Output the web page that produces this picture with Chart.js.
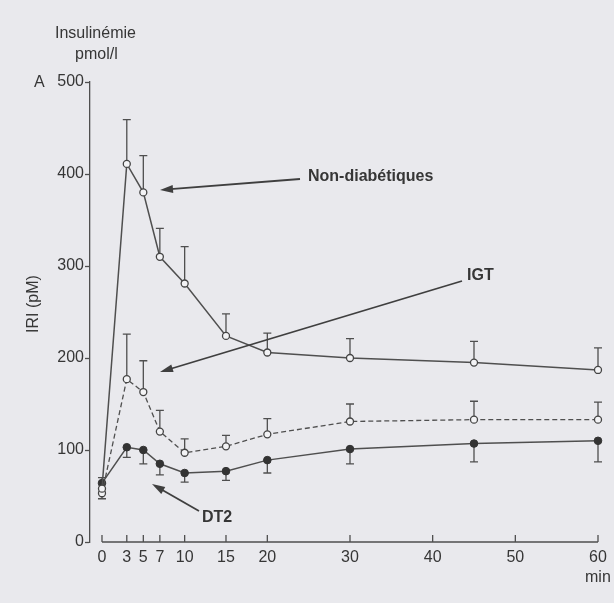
<!DOCTYPE html>
<html>
<head>
<meta charset="utf-8">
<script src="https://cdn.jsdelivr.net/npm/chart.js@4.4.1/dist/chart.umd.min.js"></script>
<style>
  html, body { margin: 0; padding: 0; background: #e9e9ed; }
</style>
</head>
<body>
<canvas id="graphiqueInsuline" width="614" height="603"></canvas>
<script>
// temps apres la charge (min)
var minutes = [0, 3, 5, 7, 10, 15, 20, 30, 45, 60];
var ticksX = [0, 3, 5, 7, 10, 15, 20, 30, 40, 50, 60];

// insulinemie (pM)
var nonDiabetiques = [58, 411, 380, 310, 281, 224, 206, 200, 195, 187];
var nonDiabetiquesErr = [58, 459, 420, 341, 321, 248, 227, 221, 218, 211];
var igt = [53, 177, 163, 120, 97, 104, 117, 131, 133, 133];
var igtErr = [47, 226, 197, 143, 112, 116, 134, 150, 153, 152];
var dt2 = [64, 103, 100, 85, 75, 77, 89, 101, 107, 110];
var dt2Err = [70, 92, 85, 73, 65, 67, 75, 85, 87, 87];

var police = "'Liberation Sans', Arial, sans-serif";
var gris = "#4f4f4f";
var texte = "#363636";

function points(valeurs) {
  return minutes.map((t, i) => ({ x: t, y: valeurs[i] }));
}

function fleche(ctx, x1, y1, x2, y2) {
  var ang = Math.atan2(y2 - y1, x2 - x1);
  var lg = 13, la = 4;
  ctx.beginPath();
  ctx.moveTo(x1, y1);
  ctx.lineTo(x2 - Math.cos(ang) * lg * 0.8, y2 - Math.sin(ang) * lg * 0.8);
  ctx.stroke();
  ctx.beginPath();
  ctx.moveTo(x2, y2);
  ctx.lineTo(x2 - Math.cos(ang) * lg - Math.sin(ang) * la, y2 - Math.sin(ang) * lg + Math.cos(ang) * la);
  ctx.lineTo(x2 - Math.cos(ang) * lg + Math.sin(ang) * la, y2 - Math.sin(ang) * lg - Math.cos(ang) * la);
  ctx.closePath();
  ctx.fill();
}

var decor = {
  id: "decor",
  beforeDraw(chart) {
    var ctx = chart.ctx;
    ctx.save();
    ctx.fillStyle = "#e9e9ed";
    ctx.fillRect(0, 0, chart.width, chart.height);
    ctx.restore();
  },
  beforeDatasetsDraw(chart) {
    var ctx = chart.ctx;
    var ys = chart.scales.y;
    var barres = [nonDiabetiquesErr, igtErr, dt2Err];
    ctx.save();
    ctx.strokeStyle = gris;
    ctx.lineWidth = 1.3;
    chart.data.datasets.forEach((ds, k) => {
      chart.getDatasetMeta(k).data.forEach((pt, i) => {
        var fin = barres[k][i];
        if (fin == null || fin === ds.data[i].y) return;
        var yf = ys.getPixelForValue(fin);
        ctx.beginPath();
        ctx.moveTo(pt.x, pt.y);
        ctx.lineTo(pt.x, yf);
        ctx.moveTo(pt.x - 4, yf);
        ctx.lineTo(pt.x + 4, yf);
        ctx.stroke();
      });
    });
    ctx.restore();
  },
  afterDraw(chart) {
    var ctx = chart.ctx;
    var xs = chart.scales.x;
    var bas = chart.chartArea.bottom;
    ctx.save();
    // axe des x detache de l'axe y
    ctx.strokeStyle = gris;
    ctx.lineWidth = 1.3;
    ctx.beginPath();
    ctx.moveTo(xs.getPixelForValue(0), bas);
    ctx.lineTo(xs.getPixelForValue(60), bas);
    ticksX.forEach(v => {
      var px = xs.getPixelForValue(v);
      ctx.moveTo(px, bas);
      ctx.lineTo(px, bas - 7);
    });
    ctx.stroke();

    // textes
    ctx.fillStyle = texte;
    ctx.textBaseline = "middle";
    ctx.textAlign = "left";
    ctx.font = "16px " + police;
    ctx.fillText("Insulinémie", 55, 34);
    ctx.fillText("pmol/l", 75, 55);
    ctx.fillText("A", 34, 83);
    ctx.fillText("min", 585, 578);
    ctx.save();
    ctx.translate(34, 304);
    ctx.rotate(-Math.PI / 2);
    ctx.textAlign = "center";
    ctx.fillText("IRI (pM)", 0, 0);
    ctx.restore();

    ctx.font = "bold 16px " + police;
    ctx.fillText("Non-diabétiques", 308, 177);
    ctx.fillText("IGT", 467, 276);
    ctx.fillText("DT2", 202, 518);

    // fleches
    ctx.strokeStyle = "#3f3f3f";
    ctx.fillStyle = "#3f3f3f";
    ctx.lineWidth = 1.8;
    fleche(ctx, 300, 179, 160, 190);
    fleche(ctx, 462, 281, 160, 372);
    fleche(ctx, 199, 511, 152, 484);
    ctx.restore();
  }
};

var ctx = document.getElementById("graphiqueInsuline").getContext("2d");
var graphique = new Chart(ctx, {
  type: "line",
  data: {
    datasets: [
      {
        label: "Non-diabétiques",
        data: points(nonDiabetiques),
        borderColor: gris,
        borderWidth: 1.5,
        clip: false,
        pointRadius: 3.5,
        pointBackgroundColor: "#f3f3f5",
        pointBorderColor: "#444",
        pointBorderWidth: 1.3
      },
      {
        label: "IGT",
        data: points(igt),
        borderColor: gris,
        borderWidth: 1.3,
        borderDash: [5, 3],
        clip: false,
        pointRadius: 3.5,
        pointBackgroundColor: "#f3f3f5",
        pointBorderColor: "#444",
        pointBorderWidth: 1.3
      },
      {
        label: "DT2",
        data: points(dt2),
        borderColor: gris,
        borderWidth: 1.5,
        clip: false,
        pointRadius: 3.8,
        pointBackgroundColor: "#333",
        pointBorderColor: "#333",
        pointBorderWidth: 1
      }
    ]
  },
  options: {
    responsive: false,
    animation: false,
    layout: { padding: { left: 0, right: 16, top: 82, bottom: 0 } },
    plugins: { legend: { display: false }, tooltip: { enabled: false } },
    scales: {
      x: {
        type: "linear",
        min: -1.45,
        max: 60,
        afterBuildTicks: s => { s.ticks = ticksX.map(v => ({ value: v })); },
        afterFit: s => { s.height = 61; },
        grid: { display: false },
        border: { display: false },
        ticks: {
          autoSkip: false,
          maxRotation: 0,
          padding: -2,
          color: texte,
          font: { family: police, size: 16 }
        }
      },
      y: {
        min: 0,
        max: 500,
        afterFit: s => { s.width = 90; },
        ticks: {
          stepSize: 100,
          padding: 1,
          color: texte,
          font: { family: police, size: 16 }
        },
        grid: {
          drawOnChartArea: false,
          drawTicks: true,
          tickLength: 5,
          tickColor: gris,
          tickWidth: 1.3
        },
        border: { display: true, color: gris, width: 1.3 }
      }
    }
  },
  plugins: [decor]
});
</script>
</body>
</html>
